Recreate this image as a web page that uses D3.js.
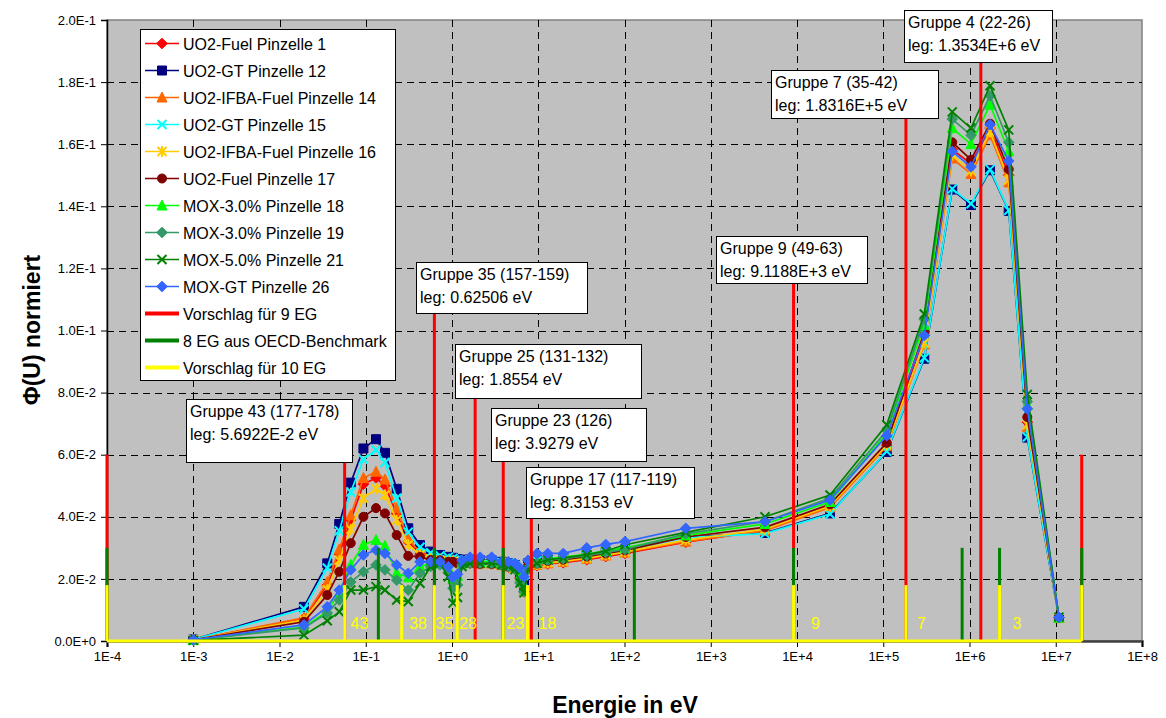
<!DOCTYPE html>
<html><head><meta charset="utf-8">
<script src="https://cdn.jsdelivr.net/npm/d3@7"></script>
<style>
body{margin:0;background:#fff;}
svg{display:block;font-family:"Liberation Sans",Arial,sans-serif;}
</style>
</head><body>
<svg id="chart" width="1166" height="718"></svg>
<script>
// ---------- DATA ----------
const energies = [0.001, 0.0192, 0.0358, 0.0493, 0.067, 0.094, 0.1315, 0.167, 0.2285, 0.311, 0.4256, 0.566, 0.726, 0.906,
  1.027, 1.159, 1.306, 1.618, 2.113, 2.886, 3.77, 4.5, 5.38, 6.14, 6.84, 7.6, 9.68,
  12.88, 19.5, 36.5, 60.6, 101.4, 513, 4256, 24150,
  109700, 299000, 631000, 1040000, 1730000, 2850000, 4680000, 10900000];

const pin1 = [0.0004, 0.0072, 0.018, 0.028, 0.039, 0.0505, 0.0525, 0.050, 0.041, 0.032, 0.028, 0.0268, 0.0263, 0.0258,
  0.0258, 0.0253, 0.025, 0.025, 0.0248, 0.0248, 0.0243, 0.0238, 0.0233, 0.0203, 0.0158, 0.0233, 0.0243,
  0.0248, 0.0252, 0.0262, 0.0272, 0.0282, 0.0318, 0.0357, 0.0435,
  0.063, 0.0984, 0.1583, 0.1537, 0.1652, 0.150, 0.0705, 0.0075];
const pin12 = [0.0005, 0.011, 0.025, 0.0377, 0.051, 0.062, 0.065, 0.0606, 0.049, 0.0363, 0.0309, 0.0288, 0.0277, 0.0271,
  0.0268, 0.0264, 0.0262, 0.0262, 0.026, 0.026, 0.0255, 0.025, 0.0245, 0.022, 0.019, 0.025, 0.026,
  0.0262, 0.0266, 0.0276, 0.0286, 0.0295, 0.0335, 0.0348, 0.0411,
  0.0609, 0.0909, 0.1454, 0.1404, 0.1516, 0.1385, 0.0655, 0.0074];
const pin14 = [0.0004, 0.0075, 0.019, 0.0295, 0.0405, 0.0525, 0.0545, 0.052, 0.0428, 0.033, 0.0285, 0.027, 0.0265, 0.026,
  0.026, 0.0255, 0.0252, 0.0252, 0.025, 0.025, 0.0245, 0.024, 0.0235, 0.0205, 0.016, 0.0235, 0.0245,
  0.025, 0.0255, 0.0265, 0.0275, 0.0285, 0.032, 0.0355, 0.043,
  0.0627, 0.0955, 0.1554, 0.1504, 0.1629, 0.1477, 0.069, 0.0074];
const pin15 = [0.0005, 0.0103, 0.0235, 0.0355, 0.048, 0.0585, 0.0615, 0.0575, 0.046, 0.035, 0.0302, 0.0284, 0.0275, 0.027,
  0.0266, 0.0262, 0.026, 0.026, 0.0258, 0.0258, 0.0253, 0.0248, 0.0243, 0.0218, 0.0188, 0.0248, 0.0258,
  0.026, 0.0264, 0.0274, 0.0284, 0.0293, 0.0333, 0.0346, 0.0409,
  0.0611, 0.0912, 0.1456, 0.1408, 0.1519, 0.1387, 0.0657, 0.0075];
const pin16 = [0.0004, 0.0068, 0.0165, 0.026, 0.036, 0.046, 0.049, 0.047, 0.039, 0.031, 0.0278, 0.0265, 0.026, 0.0255,
  0.0256, 0.0252, 0.025, 0.025, 0.0249, 0.0249, 0.0244, 0.0239, 0.0234, 0.0206, 0.0162, 0.0236, 0.0246,
  0.0252, 0.0257, 0.0267, 0.0277, 0.0287, 0.0325, 0.036, 0.0435,
  0.0632, 0.096, 0.1565, 0.1514, 0.164, 0.1485, 0.0696, 0.0074];
const pin17 = [0.0004, 0.0062, 0.0148, 0.0223, 0.0315, 0.040, 0.0428, 0.0411, 0.0341, 0.0274, 0.0271, 0.0261, 0.026, 0.0255,
  0.0255, 0.025, 0.025, 0.025, 0.0248, 0.0248, 0.0245, 0.024, 0.0235, 0.021, 0.0165, 0.024, 0.025,
  0.0258, 0.0262, 0.0272, 0.0282, 0.0292, 0.0335, 0.0366, 0.044,
  0.0638, 0.0995, 0.1606, 0.155, 0.1666, 0.1519, 0.0721, 0.0075];
const pin18 = [0.0003, 0.0045, 0.0095, 0.0155, 0.0245, 0.031, 0.0325, 0.0306, 0.0218, 0.0205, 0.024, 0.025, 0.025, 0.0235,
  0.020, 0.021, 0.025, 0.0255, 0.0255, 0.0255, 0.025, 0.0245, 0.024, 0.021, 0.0165, 0.024, 0.0255,
  0.0265, 0.027, 0.028, 0.029, 0.030, 0.034, 0.0377, 0.0448,
  0.067, 0.1018, 0.1652, 0.160, 0.1727, 0.1577, 0.076, 0.0075];
const pin19 = [0.0003, 0.0042, 0.009, 0.0132, 0.019, 0.0223, 0.0245, 0.0229, 0.0196, 0.0164, 0.0218, 0.024, 0.0245, 0.022,
  0.017, 0.018, 0.0245, 0.025, 0.025, 0.025, 0.0245, 0.024, 0.023, 0.0187, 0.0159, 0.023, 0.025,
  0.026, 0.0265, 0.0275, 0.0285, 0.0295, 0.0345, 0.0385, 0.046,
  0.0678, 0.1036, 0.1681, 0.1629, 0.1756, 0.1606, 0.0771, 0.0076];
const pin21 = [0.0002, 0.0019, 0.0065, 0.0094, 0.0164, 0.0164, 0.0175, 0.0164, 0.0132, 0.0127, 0.0186, 0.0239, 0.025, 0.0207,
  0.0122, 0.014, 0.024, 0.025, 0.025, 0.025, 0.0245, 0.024, 0.023, 0.0187, 0.0155, 0.023, 0.025,
  0.0262, 0.0268, 0.0278, 0.029, 0.031, 0.035, 0.040, 0.047,
  0.0696, 0.1053, 0.1704, 0.1652, 0.1788, 0.1646, 0.0794, 0.0077];
const pin26 = [0.0004, 0.0052, 0.011, 0.0164, 0.0229, 0.0277, 0.0293, 0.0282, 0.0245, 0.0218, 0.0255, 0.0255, 0.0255, 0.0239,
  0.0205, 0.0215, 0.026, 0.027, 0.027, 0.027, 0.0255, 0.0255, 0.025, 0.0235, 0.0207, 0.026, 0.0282,
  0.0282, 0.0282, 0.030, 0.0311, 0.032, 0.0363, 0.0384, 0.0454,
  0.0661, 0.0984, 0.1577, 0.1527, 0.1663, 0.1546, 0.0748, 0.0076];

const seriesNames = ["UO2-Fuel Pinzelle 1", "UO2-GT Pinzelle 12", "UO2-IFBA-Fuel Pinzelle 14", "UO2-GT Pinzelle 15",
  "UO2-IFBA-Fuel Pinzelle 16", "UO2-Fuel Pinzelle 17", "MOX-3.0% Pinzelle 18", "MOX-3.0% Pinzelle 19",
  "MOX-5.0% Pinzelle 21", "MOX-GT Pinzelle 26"];
const seriesValues = [pin1, pin12, pin14, pin15, pin16, pin17, pin18, pin19, pin21, pin26];
const seriesColors = ["#ff0000", "#000080", "#ff6600", "#00ffff", "#ffcc00", "#800000", "#00ff00", "#339966", "#008000", "#3366ff"];
const seriesMarkers = ["diamond", "square", "triangle", "x", "star", "circle", "triangle", "diamond", "x", "diamond"];

// group boundaries
const red9Bounds = [1e-4, 0.056922, 0.62506, 1.8554, 3.9279, 8.3153, 9118.8, 183160, 1353400, 2e7];
const red9Heights = [0.06, 0.06, 0.11, 0.08, 0.06, 0.0398, 0.12, 0.172, 0.19, 0.06];
const green8Bounds = [1e-4, 0.14, 0.625, 3.93, 130, 9118.8, 821000, 2231000, 2e7];
const green8Height = 0.03;
const yellow10Bounds = [1e-4, 0.056922, 0.261, 0.62506, 1.15, 3.9279, 7.5, 9118.8, 183160, 2231000, 2e7];
const yellow10Height = 0.018;
const yellowLabels = ["43", "38", "35", "28", "23", "18", "9", "7", "3"];
const yellowLabelE = [0.0846, 0.404, 0.818, 1.534, 5.45, 12.8, 16370, 277000, 3560000];

// annotation boxes (9-EG proposal)
const boxLine1 = ["Gruppe 43 (177-178)", "Gruppe 35 (157-159)", "Gruppe 25 (131-132)", "Gruppe 23 (126)",
  "Gruppe 17 (117-119)", "Gruppe 9 (49-63)", "Gruppe 7 (35-42)", "Gruppe 4 (22-26)"];
const boxLine2 = ["leg: 5.6922E-2 eV", "leg: 0.62506 eV", "leg: 1.8554 eV", "leg: 3.9279 eV",
  "leg: 8.3153 eV", "leg: 9.1188E+3 eV", "leg: 1.8316E+5 eV", "leg: 1.3534E+6 eV"];
// box layout (pixels): left, top, width, height
const boxLayout = [[186, 399, 166, 63], [416, 262, 171, 51], [455, 344, 186, 54], [491, 408, 155, 53],
  [526, 467, 168, 51], [716, 236, 151, 47], [771, 70, 167, 48], [904, 10, 148, 52]];

const xTickLabels = ["1E-4", "1E-3", "1E-2", "1E-1", "1E+0", "1E+1", "1E+2", "1E+3", "1E+4", "1E+5", "1E+6", "1E+7", "1E+8"];
const yTickLabels = ["0.0E+0", "2.0E-2", "4.0E-2", "6.0E-2", "8.0E-2", "1.0E-1", "1.2E-1", "1.4E-1", "1.6E-1", "1.8E-1", "2.0E-1"];

// ---------- CHART ----------
const svg = d3.select("#chart");
const L = 107, R = 1142, T = 20, B = 641;
const x = d3.scaleLog().domain([1e-4, 1e8]).range([L, R]);
const y = d3.scaleLinear().domain([0, 0.2]).range([B, T]);
const xTickValues = xTickLabels.map(Number);
const yTickValues = yTickLabels.map(Number);

svg.append("rect").attr("x", L).attr("y", T).attr("width", R - L).attr("height", B - T)
  .attr("fill", "#c0c0c0").attr("stroke", "#808080").attr("stroke-width", 1.5);

// grid
const grid = svg.append("g").attr("stroke", "#000").attr("stroke-width", 1).attr("stroke-dasharray", "7,5");
grid.selectAll("line.v").data(xTickValues.slice(1, -1)).join("line")
  .attr("x1", d => Math.round(x(d)) + 0.5).attr("x2", d => Math.round(x(d)) + 0.5).attr("y1", T).attr("y2", B);
grid.selectAll("line.h").data(yTickValues.slice(1, -1)).join("line")
  .attr("y1", d => Math.round(y(d)) + 0.5).attr("y2", d => Math.round(y(d)) + 0.5).attr("x1", L).attr("x2", R);

// axes
const yAxis = d3.axisLeft(y).tickValues(yTickValues).tickFormat((d, i) => yTickLabels[i]).tickSize(6).tickPadding(5);
const gy = svg.append("g").attr("transform", `translate(${L},0)`).call(yAxis);
gy.select(".domain").attr("stroke", "#000").attr("stroke-width", 1.5);
gy.selectAll("text").attr("font-size", 13).attr("font-family", "Liberation Sans, Arial, sans-serif").attr("fill", "#000");

const xAxis = d3.axisBottom(x).tickValues(xTickValues).tickFormat((d, i) => xTickLabels[i]).tickSize(6).tickPadding(5);
const gx = svg.append("g").attr("transform", `translate(0,${B})`).call(xAxis);
gx.select(".domain").attr("stroke", "#404040").attr("stroke-width", 2.5);
gx.selectAll("text").attr("font-size", 13).attr("font-family", "Liberation Sans, Arial, sans-serif").attr("fill", "#000");

// markers
function markerPath(type, s) {
  const h = s / 2;
  switch (type) {
    case "diamond": return `M0,${-h - 0.8}L${h + 0.8},0L0,${h + 0.8}L${-h - 0.8},0Z`;
    case "square": return `M${-h},${-h}H${h}V${h}H${-h}Z`;
    case "triangle": return `M0,${-h - 1}L${h + 0.5},${h}L${-h - 0.5},${h}Z`;
    case "circle": return d3.symbol(d3.symbolCircle, Math.PI * h * h)();
    case "x": return `M${-h},${-h}L${h},${h}M${-h},${h}L${h},${-h}`;
    case "star": return `M${-h},${-h}L${h},${h}M${-h},${h}L${h},${-h}M0,${-h - 1}L0,${h + 1}`;
  }
}
function drawMarker(g, type, color, cx, cy, s) {
  const filled = !(type === "x" || type === "star");
  g.append("path").attr("d", markerPath(type, s)).attr("transform", `translate(${cx},${cy})`)
    .attr("fill", filled ? color : "none").attr("stroke", color).attr("stroke-width", filled ? 1 : 2);
}

// data series
const line = d3.line().x(d => x(d[0])).y(d => y(d[1]));
seriesValues.forEach((vals, i) => {
  const pts = energies.map((e, k) => [e, vals[k]]);
  const g = svg.append("g");
  g.append("path").attr("d", line(pts)).attr("fill", "none").attr("stroke", seriesColors[i]).attr("stroke-width", 1.7);
  pts.forEach(p => drawMarker(g, seriesMarkers[i], seriesColors[i], x(p[0]), y(p[1]), 9));
});

// group lines
const gl = svg.append("g").attr("stroke-width", 3);
gl.selectAll("line.r").data(red9Bounds).join("line")
  .attr("x1", d => x(d)).attr("x2", d => x(d)).attr("y1", y(0)).attr("y2", (d, i) => y(red9Heights[i]))
  .attr("stroke", "#ff0000");
gl.selectAll("line.g").data(green8Bounds).join("line").attr("class", "g")
  .attr("x1", d => x(d)).attr("x2", d => x(d)).attr("y1", y(0)).attr("y2", y(green8Height))
  .attr("stroke", "#008000");
gl.selectAll("line.yl").data(yellow10Bounds).join("line").attr("class", "yl")
  .attr("x1", d => x(d)).attr("x2", d => x(d)).attr("y1", y(0)).attr("y2", y(yellow10Height))
  .attr("stroke", "#ffff00");
gl.append("line").attr("x1", x(yellow10Bounds[0])).attr("x2", x(yellow10Bounds[yellow10Bounds.length - 1]))
  .attr("y1", y(0)).attr("y2", y(0)).attr("stroke", "#ffff00");

svg.append("g").selectAll("text").data(yellowLabels).join("text")
  .attr("x", (d, i) => x(yellowLabelE[i])).attr("y", y(0) - 12)
  .attr("text-anchor", "middle").attr("font-size", 16).attr("fill", "#ffff00").text(d => d);

// annotation boxes
boxLayout.forEach((b, i) => {
  const g = svg.append("g");
  g.append("rect").attr("x", b[0] + 0.5).attr("y", b[1] + 0.5).attr("width", b[2]).attr("height", b[3])
    .attr("fill", "#fff").attr("stroke", "#000").attr("stroke-width", 1);
  g.append("text").attr("x", b[0] + 4).attr("y", b[1] + 18).attr("font-size", 16).text(boxLine1[i]);
  g.append("text").attr("x", b[0] + 4).attr("y", b[1] + 41).attr("font-size", 16).text(boxLine2[i]);
});

// legend
const lg = svg.append("g");
lg.append("rect").attr("x", 140.5).attr("y", 29.5).attr("width", 255).attr("height", 351)
  .attr("fill", "#fff").attr("stroke", "#000").attr("stroke-width", 1);
const legendNames = seriesNames.concat(["Vorschlag für 9 EG", "8 EG aus OECD-Benchmark", "Vorschlag für 10 EG"]);
const legendColors = seriesColors.concat(["#ff0000", "#008000", "#ffff00"]);
legendNames.forEach((n, i) => {
  const cy = 43.5 + i * 27.0;
  if (i < 10) {
    lg.append("line").attr("x1", 145).attr("x2", 179).attr("y1", cy).attr("y2", cy)
      .attr("stroke", legendColors[i]).attr("stroke-width", 1.7);
    drawMarker(lg, seriesMarkers[i], legendColors[i], 162, cy, 9);
  } else {
    lg.append("line").attr("x1", 145).attr("x2", 179).attr("y1", cy).attr("y2", cy)
      .attr("stroke", legendColors[i]).attr("stroke-width", 4);
  }
  lg.append("text").attr("x", 183).attr("y", cy + 6).attr("font-size", 16).text(n);
});

// axis titles
svg.append("text").attr("x", 625).attr("y", 713).attr("text-anchor", "middle")
  .attr("font-size", 23).attr("font-weight", "bold").text("Energie in eV");
svg.append("text").attr("transform", "translate(40,330) rotate(-90)").attr("text-anchor", "middle")
  .attr("font-size", 23).attr("font-weight", "bold").text("Φ(U) normiert");
</script>
</body></html>
